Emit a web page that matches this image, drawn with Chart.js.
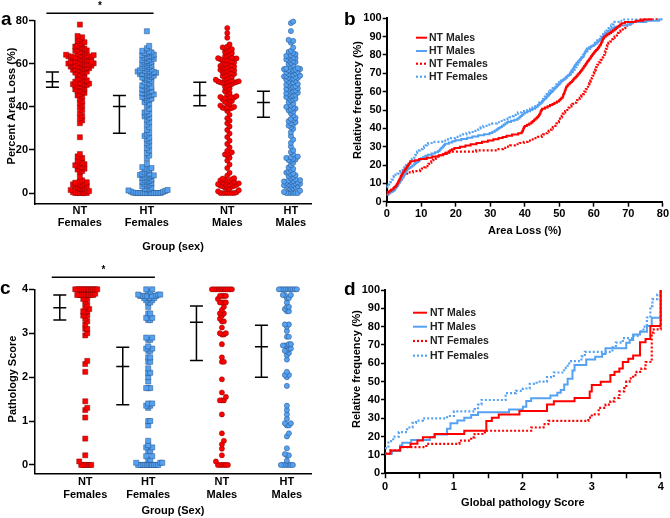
<!DOCTYPE html>
<html>
<head>
<meta charset="utf-8">
<script src="https://cdn.jsdelivr.net/npm/chart.js@4.4.1/dist/chart.umd.min.js"></script>
<style>
  body { margin: 0; width: 670px; height: 518px; position: relative; background: #fff; overflow: hidden; }
  canvas { position: absolute; }
</style>
</head>
<body>
<canvas id="cA" width="340" height="260" style="left:0;top:0"></canvas>
<canvas id="cB" width="330" height="260" style="left:340px;top:0"></canvas>
<canvas id="cC" width="340" height="258" style="left:0;top:260px"></canvas>
<canvas id="cD" width="330" height="258" style="left:340px;top:260px"></canvas>
<script>
// Datos
const groups = [["NT", "Females"], ["HT", "Females"], ["NT", "Males"], ["HT", "Males"]];

// percent area loss, one value per animal (panel a and b)
const areaNTF = [0, 0, 0, 0, 0, 0, 0.4, 0.9, 1.4, 1.8, 2.1, 2.5, 2.7, 3.0, 3.2, 3.6, 3.8, 4.0, 4.3, 4.5, 4.8, 5.0,
  5.4, 5.9, 7.6, 9.7, 10.2, 10.9, 11.3, 11.8, 12.1, 12.6, 12.9, 13.4, 13.9, 14.2, 14.8, 15.6, 16.3, 17.0,
  18.1, 25.9, 32.4, 33.7, 34.8, 35.8, 37.1, 38.5, 39.7, 40.8, 41.9, 42.7, 43.8, 44.9, 45.3, 45.8, 46.5, 46.9,
  47.2, 47.8, 48.1, 48.4, 48.9, 49.2, 49.6, 49.9, 50.1, 50.2, 50.5, 50.7, 50.8, 51.0, 51.3, 51.7, 51.9, 52.3,
  52.7, 52.9, 53.5, 53.8, 54.4, 54.9, 55.2, 55.7, 55.9, 56.3, 56.4, 56.9, 57.1, 57.2, 57.6, 57.7, 57.9, 58.0,
  58.3, 58.6, 58.7, 58.9, 59.0, 59.1, 59.4, 59.5, 59.6, 59.8, 60.0, 60.1, 60.2, 60.4, 60.6, 60.7, 60.8, 61.0,
  61.2, 61.4, 61.9, 62.0, 62.2, 62.6, 62.7, 63.0, 63.1, 63.2, 63.3, 63.4, 63.5, 63.7, 63.8, 63.9, 64.0, 64.2,
  64.7, 64.9, 65.4, 65.6, 66.0, 66.2, 66.7, 67.0, 67.2, 67.7, 68.0, 68.4, 69.1, 69.5, 70.0, 70.6, 71.5, 72.3,
  72.9, 78.2];
const areaHTF = [0, 0, 0, 0, 0, 0, 0, 0, 0, 0, 0, 0, 0.2, 0.5, 0.7, 1.0, 1.2, 1.4, 1.7, 1.8, 2.0, 2.5, 3.1, 3.4,
  3.9, 4.3, 4.6, 5.1, 5.3, 5.6, 6.0, 6.3, 6.8, 7.0, 7.3, 7.7, 8.0, 8.2, 8.4, 8.6, 8.8, 9.0, 9.6, 10.4, 10.8,
  11.3, 11.6, 12.0, 13.5, 16.1, 17.4, 18.6, 19.8, 20.9, 22.1, 23.1, 24.0, 24.9, 25.7, 26.5, 27.2, 28.0, 29.3,
  30.6, 31.9, 33.0, 34.1, 35.0, 35.6, 36.2, 36.8, 37.4, 38.0, 39.1, 40.7, 41.5, 42.2, 43.0, 43.4, 43.8, 44.2,
  44.6, 45.0, 45.3, 45.6, 45.8, 46.1, 46.4, 46.7, 47.0, 47.4, 47.8, 48.1, 48.5, 48.9, 49.2, 49.6, 50.0, 50.5,
  51.0, 51.5, 52.0, 52.5, 53.0, 53.3, 53.6, 53.9, 54.2, 54.5, 54.8, 55.0, 55.2, 55.4, 55.6, 55.8, 56.0, 56.2,
  56.4, 56.6, 56.8, 57.0, 57.4, 57.8, 58.1, 58.5, 58.9, 59.2, 59.6, 60.0, 60.3, 60.7, 61.0, 61.3, 61.7, 62.0,
  62.3, 62.7, 63.0, 63.3, 63.7, 64.0, 64.3, 64.7, 65.0, 65.3, 65.7, 66.0, 67.2, 68.3, 75.1];
const areaNTM = [0, 0, 0, 0, 0, 0, 0, 0.3, 0.8, 1.3, 1.9, 2.2, 2.6, 2.9, 3.1, 3.3, 3.4, 3.6, 3.8, 4.0, 4.1, 4.3,
  4.5, 4.7, 4.9, 5.2, 5.4, 5.7, 5.9, 6.2, 6.4, 6.7, 6.9, 8.1, 9.4, 11.6, 13.2, 15.1, 16.4, 17.4, 17.9, 18.4,
  18.9, 19.6, 21.2, 22.8, 24.3, 26.0, 27.6, 29.3, 30.9, 32.4, 33.6, 34.7, 36.3, 38.1, 39.1, 39.3, 39.5, 39.6,
  39.8, 40.0, 40.6, 41.3, 41.9, 42.3, 42.7, 43.1, 43.5, 43.9, 44.1, 44.3, 44.5, 44.6, 44.8, 45.0, 45.8, 46.6,
  47.3, 48.0, 48.6, 49.3, 49.9, 50.3, 50.6, 51.0, 51.1, 51.2, 51.4, 51.5, 51.6, 51.8, 51.9, 52.0, 52.3, 52.6,
  53.0, 53.3, 53.7, 54.0, 54.3, 54.7, 55.0, 55.3, 55.6, 56.0, 56.2, 56.5, 56.7, 57.0, 57.2, 57.5, 57.7, 58.0,
  58.2, 58.5, 58.7, 59.0, 59.2, 59.5, 59.7, 60.0, 60.3, 60.6, 61.0, 61.2, 61.5, 61.7, 62.0, 62.1, 62.3, 62.5,
  62.6, 62.8, 63.0, 63.4, 63.9, 64.5, 65.0, 65.5, 66.0, 66.4, 66.8, 67.2, 67.6, 68.0, 69.0, 72.1, 74.3, 76.6];
const areaHTM = [0, 0, 0, 0, 0, 0, 0.5, 1.1, 1.7, 2.2, 2.4, 2.7, 3.0, 3.2, 3.4, 3.6, 3.9, 4.1, 4.3, 4.5, 4.8,
  5.0, 5.2, 5.4, 5.6, 5.8, 6.0, 6.4, 6.9, 7.4, 7.9, 8.3, 8.7, 9.1, 9.5, 9.9, 10.6, 11.2, 11.9, 13.0, 14.0,
  14.9, 15.3, 15.6, 15.9, 16.3, 16.6, 16.9, 18.0, 19.0, 19.9, 21.6, 23.3, 24.8, 26.5, 28.2, 29.8, 30.6, 31.3,
  31.9, 32.4, 32.9, 33.4, 33.9, 34.4, 34.9, 36.0, 37.0, 37.9, 38.4, 38.8, 39.2, 39.6, 40.0, 40.7, 41.5, 42.2,
  43.0, 43.4, 43.8, 44.2, 44.6, 45.0, 45.3, 45.6, 46.0, 46.3, 46.6, 47.0, 47.3, 47.6, 48.0, 48.3, 48.6, 49.0,
  49.3, 49.6, 50.0, 50.3, 50.6, 51.0, 51.4, 51.8, 52.2, 52.6, 53.0, 53.2, 53.4, 53.6, 53.9, 54.1, 54.3, 54.5,
  54.8, 55.0, 55.3, 55.6, 56.0, 56.3, 56.6, 57.0, 57.1, 57.3, 57.5, 57.6, 57.8, 58.0, 58.6, 59.3, 59.9, 60.4,
  60.8, 61.2, 61.6, 62.0, 62.3, 62.7, 63.0, 63.3, 63.7, 64.0, 64.5, 65.0, 65.5, 66.0, 67.5, 69.8, 70.6, 71.1,
  75.2, 78.9, 79.6];

// global pathology score (panel c and d)
const pathNTF = [0, 0, 0, 0, 0, 0, 0.08, 0.22, 0.6, 1.08, 1.25, 1.3, 1.45, 2.12, 2.3, 2.37, 2.95, 3.0, 3.1, 3.1,
  3.2, 3.27, 3.33, 3.4, 3.4, 3.47, 3.5, 3.5, 3.55, 3.6, 3.65, 3.72, 3.78, 3.78, 3.87, 3.87, 3.87, 3.87, 3.87,
  3.87, 3.87, 3.87, 3.87, 3.9, 4, 4, 4, 4, 4, 4, 4, 4, 4, 4, 4, 4];
const pathHTF = [0, 0, 0, 0, 0, 0, 0, 0, 0, 0, 0, 0.05, 0.05, 0.05, 0.12, 0.12, 0.2, 0.2, 0.32, 0.32, 0.4, 0.4,
  0.45, 0.55, 0.9, 1.0, 1.0, 1.3, 1.35, 1.35, 1.4, 1.4, 1.75, 1.75, 1.75, 1.9, 2.0, 2.1, 2.1, 2.2, 2.35, 2.35,
  2.45, 2.45, 2.6, 2.6, 2.65, 2.65, 2.7, 2.85, 2.85, 2.9, 2.9, 3.3, 3.3, 3.35, 3.35, 3.45, 3.45, 3.6, 3.7,
  3.7, 3.75, 3.75, 3.8, 3.8, 3.8, 3.8, 3.85, 3.85, 3.85, 3.85, 3.85, 3.88, 3.88, 3.88, 3.95, 3.95, 4, 4];
const pathNTM = [0, 0, 0, 0, 0, 0, 0.08, 0.22, 0.37, 0.47, 0.55, 0.72, 1.15, 1.47, 1.47, 1.47, 1.55, 1.65, 1.95,
  2.35, 2.35, 2.45, 2.75, 2.97, 2.97, 3.0, 3.0, 3.13, 3.27, 3.27, 3.33, 3.4, 3.45, 3.45, 3.53, 3.6, 3.7, 3.7,
  3.7, 3.7, 3.78, 3.85, 3.85, 3.85, 3.85, 4, 4, 4, 4, 4, 4, 4, 4, 4, 4, 4];
const pathHTM = [0, 0, 0, 0, 0, 0, 0, 0.1, 0.22, 0.22, 0.25, 0.38, 0.65, 0.72, 0.9, 0.9, 0.95, 0.95, 1.05, 1.15,
  1.25, 1.35, 1.8, 2.0, 2.05, 2.05, 2.12, 2.4, 2.5, 2.55, 2.6, 2.6, 2.65, 2.65, 2.72, 2.72, 2.72, 2.75, 2.75,
  2.92, 2.92, 3.05, 3.15, 3.2, 3.2, 3.5, 3.5, 3.55, 3.6, 3.6, 3.7, 3.8, 3.8, 3.87, 3.87, 3.87, 4, 4, 4, 4, 4,
  4, 4, 4, 4, 4];

// centre line and error bar of each group
const areaMid = [51.6, 40.2, 45.3, 42.0];
const areaLo = [49.1, 27.8, 40.5, 35.2];
const areaHi = [56.2, 45.3, 51.4, 47.3];
const pathMid = [3.58, 2.24, 3.25, 2.69];
const pathLo = [3.30, 1.37, 2.38, 2.00];
const pathHi = [3.87, 2.68, 3.62, 3.18];

// Estilo
const FONT = '"Liberation Sans", Arial, sans-serif';
Chart.defaults.font.family = FONT;
Chart.defaults.font.size = 11;
Chart.defaults.font.weight = "bold";
Chart.defaults.color = "#000";

const RED = "#ff0000";
const BLUE = "#55a2f2";

const posA = [1, 2, 3.2, 4.15];
const posC = [1.08, 2.02, 3.12, 4.09];

function ecdf(vals) {
  const s = vals.slice().sort((a, b) => a - b);
  const pts = [];
  s.forEach((v, i) => {
    if (i < s.length - 1 && s[i + 1] === v) return;
    pts.push({ x: v, y: (i + 1) / s.length * 100 });
  });
  return pts;
}

// column scatter, points pushed sideways when they would overlap
function swarm(vals, chart, centre, sx, sy) {
  const xs = chart.scales.x, ys = chart.scales.y;
  const c = xs.getPixelForValue(centre);
  const placed = [];
  return vals.slice().sort((a, b) => a - b).map(v => {
    const py = ys.getPixelForValue(v);
    let k = 0, dx = 0;
    for (;;) {
      dx = (k % 2 ? 1 : -1) * Math.ceil(k / 2) * sx;
      if (!placed.some(p => Math.abs(p.y - py) < sy && Math.abs(p.x - dx) < sx * 0.99)) break;
      k++;
    }
    placed.push({ x: dx, y: py });
    return { x: xs.getValueForPixel(c + dx), y: v };
  });
}

function yTitle(ctx, text, x, y) {
  ctx.save();
  ctx.translate(x, y);
  ctx.rotate(-Math.PI / 2);
  ctx.font = "bold 11px " + FONT;
  ctx.fillStyle = "#000";
  ctx.textAlign = "center";
  ctx.textBaseline = "middle";
  ctx.fillText(text, 0, 0);
  ctx.restore();
}

function letter(ctx, t, x, y) {
  ctx.save();
  ctx.font = "bold 19px " + FONT;
  ctx.fillStyle = "#000";
  ctx.textBaseline = "alphabetic";
  ctx.fillText(t, x, y);
  ctx.restore();
}

/* SCATTER PANELS (a, c) */
function scatterPanel(el, o) {
  const chart = new Chart(el, {
    type: "scatter",
    data: {
      datasets: o.sets.map((vals, i) => ({
        data: [],
        pointStyle: i < 2 ? "rect" : "circle",
        pointRadius: i < 2 ? 3.6 : 2.6,
        backgroundColor: i % 2 ? BLUE : RED,
        borderColor: i % 2 ? "rgba(30,70,120,0.65)" : "rgba(110,0,0,0.6)",
        borderWidth: 0.7,
        clip: false
      }))
    },
    options: {
      responsive: false,
      animation: false,
      events: [],
      layout: { padding: { top: o.top, right: o.right, left: 0, bottom: 0 } },
      plugins: { legend: { display: false }, tooltip: { enabled: false } },
      scales: {
        x: {
          type: "linear", min: 0.33, max: 4.45,
          afterBuildTicks: s => { s.ticks = o.pos.map(v => ({ value: v })); },
          ticks: {
            callback: (v, i) => groups[i],
            font: { size: 11, weight: "bold", lineHeight: o.labLH },
            padding: o.labPad, maxRotation: 0, autoSkip: false, color: "#000"
          },
          grid: { display: false, drawTicks: false },
          border: { display: true, color: "#000", width: 1.5 },
          title: { display: true, text: o.xTitle, padding: { top: 0, bottom: o.xTitlePad }, font: { size: 11, weight: "bold" } },
          afterFit: s => { s.height = o.xH; }
        },
        y: {
          min: o.yMin, max: o.yMax,
          ticks: { stepSize: o.step, includeBounds: false, padding: 1, color: "#000" },
          grid: { drawOnChartArea: false, tickLength: 6, tickColor: "#000", tickWidth: 1.5 },
          border: { display: true, color: "#000", width: 1.5 },
          afterFit: s => { s.width = 35; }
        }
      }
    },
    plugins: [{
      id: "extras",
      afterDatasetsDraw(c) {
        const { ctx, scales: { x, y } } = c;
        ctx.save();
        ctx.strokeStyle = "#000";
        ctx.lineWidth = 1.5;
        ctx.beginPath();
        o.pos.forEach((p, i) => {
          const px = x.getPixelForValue(p - o.errOff);
          const ys = [o.lo[i], o.mid[i], o.hi[i]].map(v => y.getPixelForValue(v));
          ctx.moveTo(px, ys[0]); ctx.lineTo(px, ys[2]);
          ys.forEach(py => { ctx.moveTo(px - 6.5, py); ctx.lineTo(px + 6.5, py); });
        });
        // significance bar
        const sy = c.chartArea.top - o.sigUp;
        ctx.moveTo(x.getPixelForValue(o.pos[0] - 0.5), sy);
        ctx.lineTo(x.getPixelForValue(o.pos[1] + 0.1), sy);
        ctx.stroke();
        ctx.font = "bold 10px " + FONT;
        ctx.fillStyle = "#000";
        ctx.textAlign = "center";
        ctx.textBaseline = "middle";
        ctx.fillText("*", (x.getPixelForValue(o.pos[0] - 0.5) + x.getPixelForValue(o.pos[1] + 0.1)) / 2, sy - 7);
        ctx.restore();
        yTitle(ctx, o.yTitle, o.yTitleX, o.yTitleY);
        letter(ctx, o.letter, o.letterX, o.letterY);
      }
    }]
  });
  o.sets.forEach((vals, i) => {
    chart.data.datasets[i].data = swarm(vals, chart, o.pos[i], o.sx, o.sy);
  });
  chart.update("none");
}

/* CUMULATIVE PANELS (b, d) */
function cdfPanel(el, o) {
  const names = ["NT Males", "HT Males", "NT Females", "HT Females"];
  const colors = [RED, BLUE, RED, BLUE];
  new Chart(el, {
    type: "scatter",
    data: {
      datasets: o.sets.map((vals, i) => ({
        label: names[i],
        data: ecdf(vals),
        showLine: true,
        stepped: "before",
        pointRadius: 0,
        borderColor: colors[i],
        borderWidth: i < 2 ? 2 : 2.2,
        borderDash: i < 2 ? [] : [2, 2],
        clip: 3
      }))
    },
    options: {
      responsive: false,
      animation: false,
      events: [],
      layout: { padding: { top: o.top, right: o.right, left: 0, bottom: 0 } },
      plugins: { legend: { display: false }, tooltip: { enabled: false } },
      scales: {
        x: {
          min: 0, max: o.xMax,
          ticks: { stepSize: o.xStep, padding: o.xPad, color: "#000",
            callback: v => (Number.isInteger(v / o.xLab) ? v : "") },
          grid: { drawOnChartArea: false, tickLength: 5, tickColor: "#000", tickWidth: 1.5 },
          border: { display: true, color: "#000", width: 2 },
          title: { display: true, text: o.xTitle, padding: { top: 0, bottom: o.xTitlePad }, font: { size: 11, weight: "bold" } },
          afterFit: s => { s.height = o.xH; }
        },
        y: {
          min: 0, max: 100,
          ticks: { stepSize: 10, padding: 1, color: "#000" },
          grid: { drawOnChartArea: false, tickLength: 4, tickColor: "#000", tickWidth: 1.5 },
          border: { display: true, color: "#000", width: 2 },
          afterFit: s => { s.width = o.yW; }
        }
      }
    },
    plugins: [{
      id: "extras",
      afterDraw(c) {
        const ctx = c.ctx;
        c.data.datasets.forEach((ds, i) => {
          const y = o.legY[i];
          ctx.save();
          ctx.strokeStyle = ds.borderColor;
          ctx.lineWidth = ds.borderWidth;
          ctx.setLineDash(ds.borderDash);
          ctx.beginPath();
          ctx.moveTo(o.legX[0], y);
          ctx.lineTo(o.legX[1], y);
          ctx.stroke();
          ctx.fillStyle = "#222";
          ctx.font = "bold 10.5px " + FONT;
          ctx.textBaseline = "middle";
          ctx.fillText(ds.label, o.legX[2], y);
          ctx.restore();
        });
        yTitle(ctx, "Relative frequency (%)", o.yTitleX, o.yTitleY);
        letter(ctx, o.letter, o.letterX, o.letterY);
      }
    }]
  });
}

scatterPanel(document.getElementById("cA"), {
  sets: [areaNTF, areaHTF, areaNTM, areaHTM], pos: posA, errOff: 0.41,
  mid: areaMid, lo: areaLo, hi: areaHi,
  top: 20.7, right: 29, yMin: -5.1, yMax: 80, step: 20,
  xH: 56, labLH: 1.05, labPad: 1.5, xTitle: "Group (sex)", xTitlePad: 6.8,
  yTitle: "Percent Area Loss (%)", yTitleX: 12, yTitleY: 106,
  sigUp: 7.4, sx: 2.3, sy: 3.6, letter: "a", letterX: 1, letterY: 25
});

cdfPanel(document.getElementById("cB"), {
  sets: [areaNTM, areaHTM, areaNTF, areaHTF],
  top: 18.3, right: 7, yW: 46.7, xH: 58.3, xMax: 80, xStep: 10, xLab: 10, xPad: 1,
  xTitle: "Area Loss (%)", xTitlePad: 22.8,
  legX: [76, 87, 89], legY: [37.7, 51, 63.7, 76.7],
  yTitleX: 18, yTitleY: 100, letter: "b", letterX: 4, letterY: 25
});

scatterPanel(document.getElementById("cC"), {
  sets: [pathNTF, pathHTF, pathNTM, pathHTM], pos: posC, errOff: 0.38,
  mid: pathMid, lo: pathLo, hi: pathHi,
  top: 29.3, right: 29, yMin: -0.19, yMax: 4, step: 1,
  xH: 44.7, labLH: 1.2, labPad: 1.8, xTitle: "Group (Sex)", xTitlePad: 0.8,
  yTitle: "Pathology Score", yTitleX: 12.5, yTitleY: 119,
  sigUp: 12, sx: 2.0, sy: 3.6, letter: "c", letterX: 0, letterY: 34
});

cdfPanel(document.getElementById("cD"), {
  sets: [pathNTM, pathHTM, pathNTF, pathHTF],
  top: 30, right: 9.3, yW: 45, xH: 44.7, xMax: 4, xStep: 0.5, xLab: 1, xPad: 2,
  xTitle: "Global pathology Score", xTitlePad: 8.8,
  legX: [73, 87, 90], legY: [52.7, 66.7, 81, 95.7],
  yTitleX: 17, yTitleY: 109, letter: "d", letterX: 4, letterY: 35
});
</script>
</body>
</html>
